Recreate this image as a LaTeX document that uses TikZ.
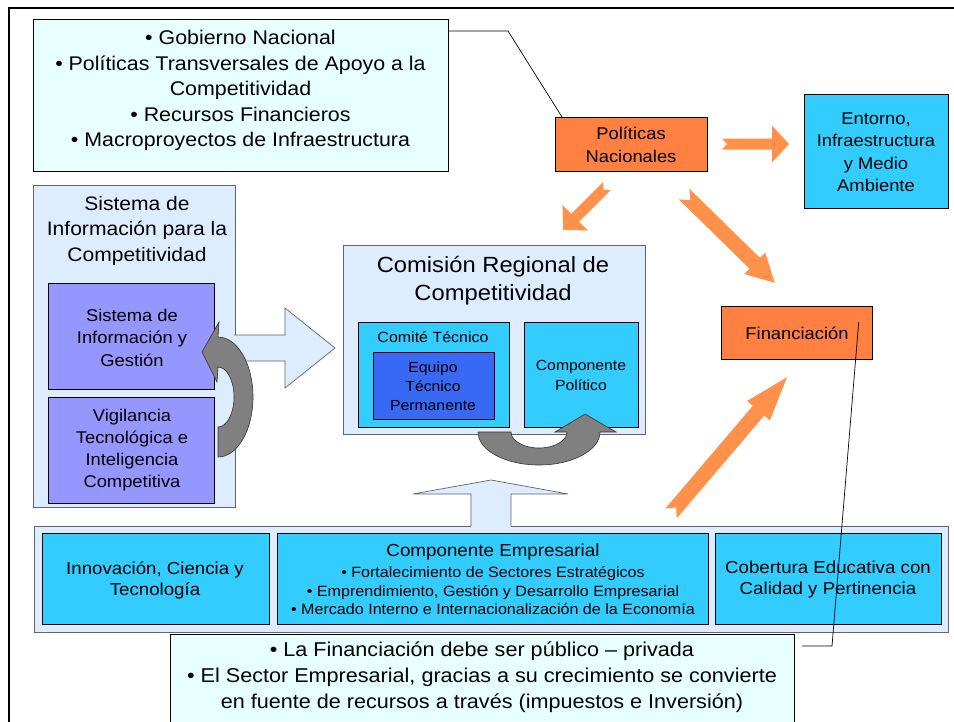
\documentclass[tikz,border=0pt]{standalone}
\usepackage{fontspec}
\setmainfont[FakeStretch=1.08]{Liberation Sans}
\definecolor{lcyan}{RGB}{232,255,255}
\definecolor{lblue}{RGB}{221,236,255}
\definecolor{cyanbox}{RGB}{51,204,255}
\definecolor{peri}{RGB}{150,150,255}
\definecolor{eqblue}{RGB}{55,105,245}
\definecolor{orbox}{RGB}{255,128,64}
\definecolor{orarr}{RGB}{255,145,75}
\definecolor{grayarr}{RGB}{128,128,128}
\definecolor{panelline}{RGB}{100,100,100}
\newcommand{\setfs}[2]{\fontsize{#1}{#2}\selectfont}
\newcommand{\notchedarrow}[8]{%
  \begin{scope}[shift={(#1,#2)},rotate=#3]
    \path[orarrow] (0,-#5) -- ({#4-#7},-#5) -- ({#4-#7},-#6) -- (#4,0) -- ({#4-#7},#6) -- ({#4-#7},#5) -- (0,#5) -- (#8,0) -- cycle;
  \end{scope}}
\tikzset{
  box/.style={draw=black, line width=0.7pt, anchor=north west, inner sep=0pt},
  panel/.style={draw=panelline, line width=0.7pt, anchor=north west, inner sep=0pt, fill=lblue},
  txt/.style={align=center, inner sep=0pt, text=black},
  orarrow/.style={fill=orarr},
  grayarrow/.style={fill=grayarr, draw=black!80, line width=0.6pt},
  blockarrow/.style={fill=lblue},
  blockline/.style={draw=panelline, line width=0.7pt},
  thinline/.style={draw=black, line width=0.7pt}
}
\begin{document}
\begin{tikzpicture}[x=1pt,y=-1pt]
\useasboundingbox (0,0) rectangle (954,721);
\fill[white] (0,0) rectangle (954,721);
% frame
\draw[line width=2.5pt] (9,724) -- (9,8) -- (956,8);

% top-left box
\node[box, fill=lcyan, minimum width=415pt, minimum height=152pt] (tl) at (33,19) {};
\node[txt, font=\setfs{19.8}{25.5}] (tlt) at (240.5,90.5) {• Gobierno Nacional\\ • Políticas Transversales de Apoyo a la\\ Competitividad\\ • Recursos Financieros\\ • Macroproyectos de Infraestructura};

% Politicas Nacionales
\node[box, fill=orbox, minimum width=152pt, minimum height=54pt] (pn) at (555,117) {};
\node[txt, font=\setfs{17}{23}] (pnt) at (631,145) {Políticas\\Nacionales};

% Entorno
\node[box, fill=cyanbox, minimum width=144pt, minimum height=114pt] (en) at (804,94) {};
\node[txt, font=\setfs{17}{22.5}] (ent) at (876,152) {Entorno,\\Infraestructura\\y Medio\\Ambiente};

% Financiacion
\node[box, fill=orbox, minimum width=151pt, minimum height=53pt] (fi) at (721,306) {};
\node[txt, font=\setfs{17}{21}] (fit) at (797,333) {Financiación};

% connector top-left -> Politicas
\coordinate (k1) at (508,31);
\draw[thinline] (tl.east |- k1) -- (k1) -- ([xshift=7pt]pn.north west);

% Sistema panel
\node[panel, minimum width=202pt, minimum height=322pt] (sp) at (33,185) {};
\node[txt, font=\setfs{19.5}{25.5}] (spt) at (137,230.5) {Sistema de\\Información para la\\Competitividad};
\node[box, fill=peri, minimum width=166pt, minimum height=106pt] (sig) at (48,283) {};
\node[txt, font=\setfs{17}{22.5}] (sigt) at (132,337.5) {Sistema de\\Información y\\Gestión};
\node[box, fill=peri, minimum width=166pt, minimum height=106pt] (vig) at (48,397) {};
\node[txt, font=\setfs{17}{22}] (vigt) at (132,450) {Vigilancia\\Tecnológica e\\Inteligencia\\Competitiva};

% Comision
\node[panel, minimum width=302pt, minimum height=189pt] (crc) at (343,245) {};
\node[txt, font=\setfs{22}{28}] (crct) at (493,281) {Comisión Regional de\\Competitividad};
\node[box, fill=cyanbox, minimum width=151pt, minimum height=105pt] (ct) at (358,322) {};
\node[txt, font=\setfs{14.8}{19}] (ctt) at (433,337) {Comité Técnico};
\node[box, fill=eqblue, minimum width=121pt, minimum height=67pt] (eq) at (373,352) {};
\node[txt, font=\setfs{14.6}{19}] (eqt) at (433,386) {Equipo\\Técnico\\Permanente};
\node[box, fill=cyanbox, minimum width=114pt, minimum height=105pt] (cp) at (524,322) {};
\node[txt, font=\setfs{14.6}{20}] (cpt) at (581,375) {Componente\\Político};

% wide arrow Sistema -> Comision
\fill[blockarrow] (234,335) -- (285,335) -- (285,308) -- (335,348) -- (285,388) -- (285,361) -- (234,361) -- cycle;
\draw[blockline] (234,335) -- (285,335) -- (285,308) -- (335,348) -- (285,388) -- (285,361) -- (234,361);

% bottom container
\node[panel, minimum width=914pt, minimum height=106pt] (bc) at (34,526) {};
\node[box, fill=cyanbox, minimum width=227pt, minimum height=91pt] (inn) at (42,533) {};
\node[txt, font=\setfs{17.3}{21}] (innt) at (155,580) {Innovación, Ciencia y\\Tecnología};
\node[box, fill=cyanbox, minimum width=431pt, minimum height=91pt] (ce) at (277,533) {};
\node[txt, font=\setfs{17.4}{21}] (cet) at (493,552) {Componente Empresarial};
\node[txt, font=\setfs{14.9}{18.5}] (ceb) at (493,591) {• Fortalecimiento de Sectores Estratégicos\\ • Emprendimiento, Gestión y Desarrollo Empresarial\\ • Mercado Interno e Internacionalización de la Economía};
\node[box, fill=cyanbox, minimum width=226pt, minimum height=91pt] (cob) at (715,533) {};
\node[txt, font=\setfs{17.3}{21}] (cobt) at (828,580) {Cobertura Educativa con\\Calidad y Pertinencia};

% up arrow container -> Comision
\fill[blockarrow] (471,527) -- (471,494) -- (413,494) -- (491,480) -- (568,494) -- (511,494) -- (511,527) -- cycle;
\draw[blockline] (471,526) -- (471,494) -- (413,494) -- (491,480) -- (568,494) -- (511,494) -- (511,526);

% bottom text box
\node[box, fill=lcyan, minimum width=624pt, minimum height=92pt] (bt) at (170,634) {};
\node[txt, font=\setfs{20}{26}] (btt) at (482,677) {• La Financiación debe ser público – privada\\ • El Sector Empresarial, gracias a su crecimiento se convierte\\ en fuente de recursos a través (impuestos e Inversión)};

% Financiacion connector
\coordinate (k2) at (832,646);
\coordinate (k3) at (802,646);
\draw[thinline] ([xshift=-14pt,yshift=-16pt]fi.north east) -- (k2) -- (k3);

% gray curved arrows
\path[grayarrow] (218,427) arc[start angle=90, end angle=-90, x radius=16, y radius=30] -- (217,382) -- (202,352) -- (219,322) -- (218,337) arc[start angle=-90, end angle=90, x radius=35, y radius=60] -- cycle;
\path[grayarrow] (478,432) arc[start angle=180, end angle=0, x radius=61, y radius=33] -- (616,432) -- (585,414) -- (555,432) -- (567,432) arc[start angle=0, end angle=180, x radius=28, y radius=16] -- cycle;

% orange notched arrows
\notchedarrow{722}{144}{0}{67}{5.5}{18.5}{17}{5}
\notchedarrow{607}{186}{225}{62}{5.5}{18}{17}{5}
\notchedarrow{684}{194}{-44.4}{127}{7.5}{15}{28}{9}
\notchedarrow{671}{513.5}{49.6}{179}{7.5}{15}{44}{8}
\end{tikzpicture}
\end{document}
